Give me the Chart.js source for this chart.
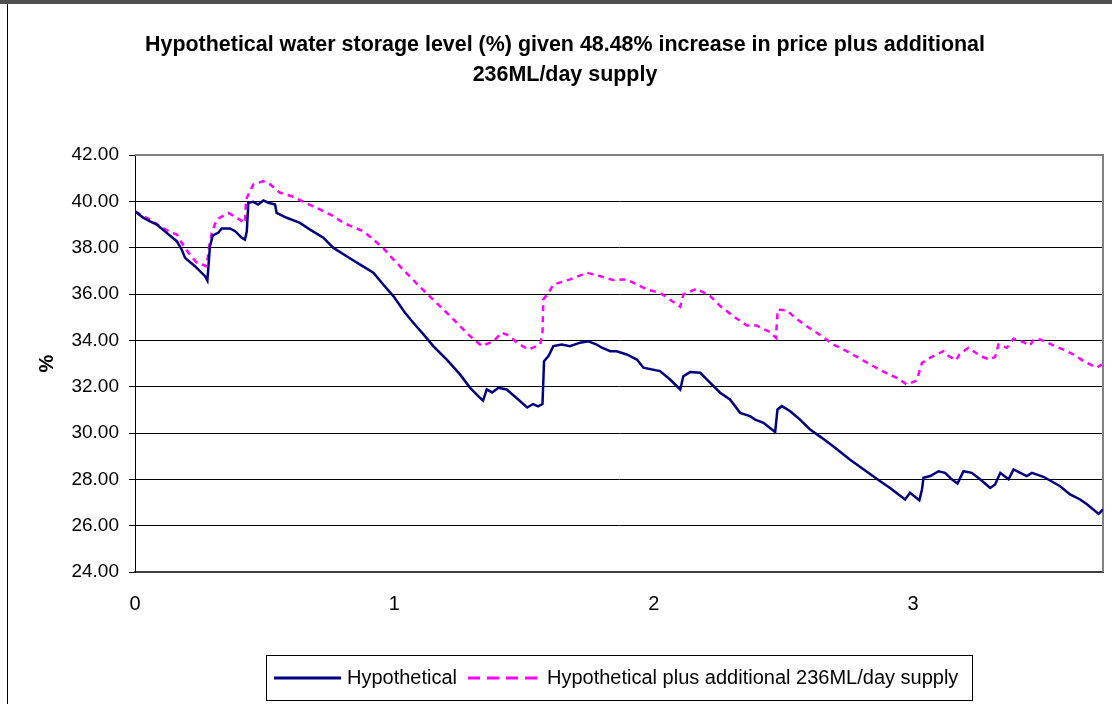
<!DOCTYPE html>
<html>
<head>
<meta charset="utf-8">
<title>Hypothetical water storage level</title>
<script src="https://cdn.jsdelivr.net/npm/chart.js@4.4.0/dist/chart.umd.min.js"></script>
<style>
  html, body { margin: 0; padding: 0; background: #fff; }
  canvas { display: block; }
</style>
</head>
<body>
<canvas id="chart" width="1112" height="704"></canvas>
<script>
const titleLines = [
  "Hypothetical water storage level (%) given 48.48% increase in price plus additional",
  "236ML/day supply"
];
const seriesNames = ["Hypothetical", "Hypothetical plus additional 236ML/day supply"];
const yTitle = "%";

// years from start
const hypoX = [0.000,0.032,0.058,0.084,0.122,0.161,0.180,0.193,0.231,0.270,
  0.279,0.289,0.300,0.321,0.334,0.366,0.386,0.411,0.424,0.431,
  0.437,0.456,0.475,0.495,0.514,0.540,0.546,0.585,0.636,0.675,
  0.726,0.765,0.816,0.868,0.919,0.957,0.996,1.041,1.073,1.118,
  1.150,1.202,1.253,1.292,1.330,1.342,1.356,1.377,1.401,1.433,
  1.472,1.512,1.535,1.554,1.571,1.577,1.594,1.613,1.645,1.677,
  1.716,1.748,1.780,1.800,1.832,1.857,1.896,1.935,1.960,2.024,
  2.063,2.102,2.114,2.140,2.179,2.217,2.256,2.294,2.333,2.371,
  2.391,2.423,2.468,2.477,2.494,2.526,2.564,2.603,2.648,2.699,
  2.757,2.815,2.873,2.911,2.969,2.988,3.024,3.034,3.040,3.066,
  3.098,3.123,3.149,3.171,3.194,3.226,3.258,3.297,3.316,3.336,
  3.368,3.387,3.438,3.458,3.502,3.567,3.605,3.644,3.670,3.715,
  3.732];
const hypoY = [39.57,39.29,39.14,39.00,38.64,38.28,37.92,37.56,37.20,36.77,
  36.58,38.06,38.53,38.64,38.83,38.83,38.71,38.43,38.35,38.71,
  39.94,39.98,39.86,40.04,39.94,39.86,39.50,39.29,39.07,38.78,
  38.43,37.99,37.63,37.27,36.92,36.41,35.91,35.19,34.76,34.18,
  33.75,33.17,32.53,31.95,31.52,31.40,31.88,31.75,31.95,31.88,
  31.50,31.10,31.25,31.15,31.25,33.10,33.32,33.75,33.82,33.75,
  33.90,33.96,33.82,33.68,33.53,33.53,33.39,33.17,32.82,32.67,
  32.31,31.88,32.45,32.63,32.60,32.17,31.74,31.45,30.87,30.73,
  30.58,30.44,30.04,31.02,31.16,30.94,30.58,30.15,29.79,29.36,
  28.85,28.38,27.92,27.63,27.13,27.42,27.10,27.56,28.07,28.14,
  28.35,28.28,28.00,27.82,28.35,28.28,28.00,27.63,27.78,28.28,
  28.00,28.43,28.14,28.28,28.11,27.70,27.35,27.13,26.92,26.51,
  26.70];

const supplyX = [0.000,0.032,0.058,0.096,0.135,0.161,0.180,0.206,0.238,0.276,
  0.286,0.296,0.315,0.360,0.392,0.424,0.428,0.456,0.495,0.521,
  0.559,0.604,0.649,0.713,0.765,0.803,0.880,0.919,0.957,0.996,
  1.086,1.138,1.202,1.240,1.292,1.337,1.382,1.414,1.446,1.472,
  1.517,1.562,1.571,1.574,1.594,1.613,1.677,1.742,1.793,1.844,
  1.896,1.935,1.973,2.024,2.089,2.102,2.114,2.166,2.217,2.256,
  2.307,2.359,2.397,2.449,2.471,2.478,2.513,2.545,2.590,2.648,
  2.693,2.744,2.802,2.847,2.899,2.937,2.976,3.014,3.034,3.066,
  3.117,3.137,3.166,3.178,3.213,3.265,3.297,3.316,3.329,3.361,
  3.387,3.425,3.451,3.464,3.490,3.541,3.580,3.618,3.657,3.708,
  3.728];
const supplyY = [39.57,39.36,39.22,38.93,38.67,38.57,38.21,37.78,37.35,37.20,
  38.06,38.64,39.22,39.50,39.29,39.07,40.08,40.73,40.87,40.73,
  40.37,40.22,39.98,39.65,39.36,39.07,38.71,38.35,37.98,37.49,
  36.45,35.88,35.19,34.76,34.18,33.75,33.96,34.33,34.18,33.90,
  33.60,33.82,34.33,35.76,36.05,36.41,36.63,36.92,36.77,36.60,
  36.63,36.41,36.20,36.05,35.55,35.45,35.98,36.23,35.91,35.48,
  35.04,34.64,34.64,34.35,34.11,35.33,35.29,34.97,34.61,34.18,
  33.82,33.53,33.17,32.88,32.57,32.38,32.09,32.27,33.03,33.25,
  33.53,33.32,33.14,33.39,33.68,33.29,33.17,33.29,33.82,33.68,
  34.07,33.92,33.78,34.04,34.04,33.78,33.60,33.39,33.10,32.82,
  32.96];

const xTicks = [0, 1, 2, 3];
const yTicks = [24, 26, 28, 30, 32, 34, 36, 38, 40, 42];

const FONT = '"Liberation Sans", Arial, sans-serif';

function toPoints(xs, ys) {
  return xs.map((x, i) => ({ x: x, y: ys[i] }));
}

// frame, title and boxed legend drawn the way the spreadsheet had them
const decorations = {
  id: "decorations",
  beforeDatasetsDraw(chart) {
    const { ctx, chartArea: a } = chart;
    ctx.save();
    ctx.strokeStyle = "#808080";
    ctx.lineWidth = 2;
    ctx.beginPath();
    ctx.moveTo(a.left, a.top);
    ctx.lineTo(a.right, a.top);
    ctx.lineTo(a.right, a.bottom);
    ctx.stroke();
    ctx.restore();
  },
  afterDraw(chart) {
    const ctx = chart.ctx;
    const ds = chart.data.datasets;
    ctx.save();

    // outer chart frame
    ctx.fillStyle = "#505050";
    ctx.fillRect(0, 0, chart.width, 4);
    ctx.strokeStyle = "#000";
    ctx.lineWidth = 1;
    ctx.beginPath();
    ctx.moveTo(7.5, 4);
    ctx.lineTo(7.5, chart.height);
    ctx.stroke();

    // title, squeezed to the spreadsheet's width
    ctx.fillStyle = "#000";
    ctx.textAlign = "center";
    ctx.textBaseline = "middle";
    ctx.font = "bold 22px " + FONT;
    const ratio = Math.min(1, 840 / ctx.measureText(titleLines[0]).width);
    titleLines.forEach((line, i) => {
      const w = ctx.measureText(line).width * ratio;
      ctx.fillText(line, 565, 45 + i * 30, w);
    });

    // legend
    ctx.strokeStyle = "#000";
    ctx.lineWidth = 1;
    ctx.strokeRect(266.5, 655.5, 706, 45);
    ctx.font = "20px " + FONT;
    ctx.textAlign = "left";
    ctx.lineWidth = 3;
    ctx.strokeStyle = ds[0].borderColor;
    ctx.beginPath();
    ctx.moveTo(274, 678);
    ctx.lineTo(341, 678);
    ctx.stroke();
    ctx.fillText(seriesNames[0], 347, 678);
    ctx.strokeStyle = ds[1].borderColor;
    ctx.setLineDash([12, 7]);
    ctx.beginPath();
    ctx.moveTo(468, 678);
    ctx.lineTo(541, 678);
    ctx.stroke();
    ctx.setLineDash([]);
    ctx.fillText(seriesNames[1], 547, 678);
    ctx.restore();
  }
};

new Chart(document.getElementById("chart"), {
  type: "line",
  data: {
    datasets: [
      {
        label: seriesNames[0],
        data: toPoints(hypoX, hypoY),
        borderColor: "#000080",
        borderWidth: 2.5,
        pointRadius: 0,
        tension: 0
      },
      {
        label: seriesNames[1],
        data: toPoints(supplyX, supplyY),
        borderColor: "#FF00FF",
        borderWidth: 2.5,
        borderDash: [6, 5],
        pointRadius: 0,
        tension: 0
      }
    ]
  },
  options: {
    responsive: false,
    animation: false,
    devicePixelRatio: 1,
    layout: { padding: { top: 155, right: 9, left: 0, bottom: 0 } },
    plugins: {
      legend: { display: false },
      title: { display: false },
      tooltip: { enabled: false }
    },
    scales: {
      x: {
        type: "linear",
        min: 0,
        max: hypoX[hypoX.length - 1],
        grid: { display: false, drawTicks: false },
        border: { display: true, color: "#404040", width: 2 },
        ticks: {
          color: "#000",
          padding: 20,
          font: { family: FONT, size: 20 }
        },
        afterBuildTicks: scale => {
          scale.ticks = xTicks.map(v => ({ value: v }));
        },
        afterFit: scale => { scale.height = 132; }
      },
      y: {
        min: yTicks[0],
        max: yTicks[yTicks.length - 1],
        grid: {
          color: "#000",
          lineWidth: 1,
          tickLength: 6,
          tickColor: "#000"
        },
        border: { display: true, color: "#000", width: 1 },
        ticks: {
          stepSize: 2,
          color: "#000",
          padding: 10,
          font: { family: FONT, size: 19 },
          callback: v => v.toFixed(2)
        },
        afterBuildTicks: scale => {
          scale.ticks = yTicks.map(v => ({ value: v }));
        },
        title: {
          display: true,
          text: yTitle,
          color: "#000",
          font: { family: FONT, size: 20, weight: "bold" },
          padding: { top: 35, bottom: 0 }
        },
        afterFit: scale => { scale.width = 135; }
      }
    }
  },
  plugins: [decorations]
});
</script>
</body>
</html>
